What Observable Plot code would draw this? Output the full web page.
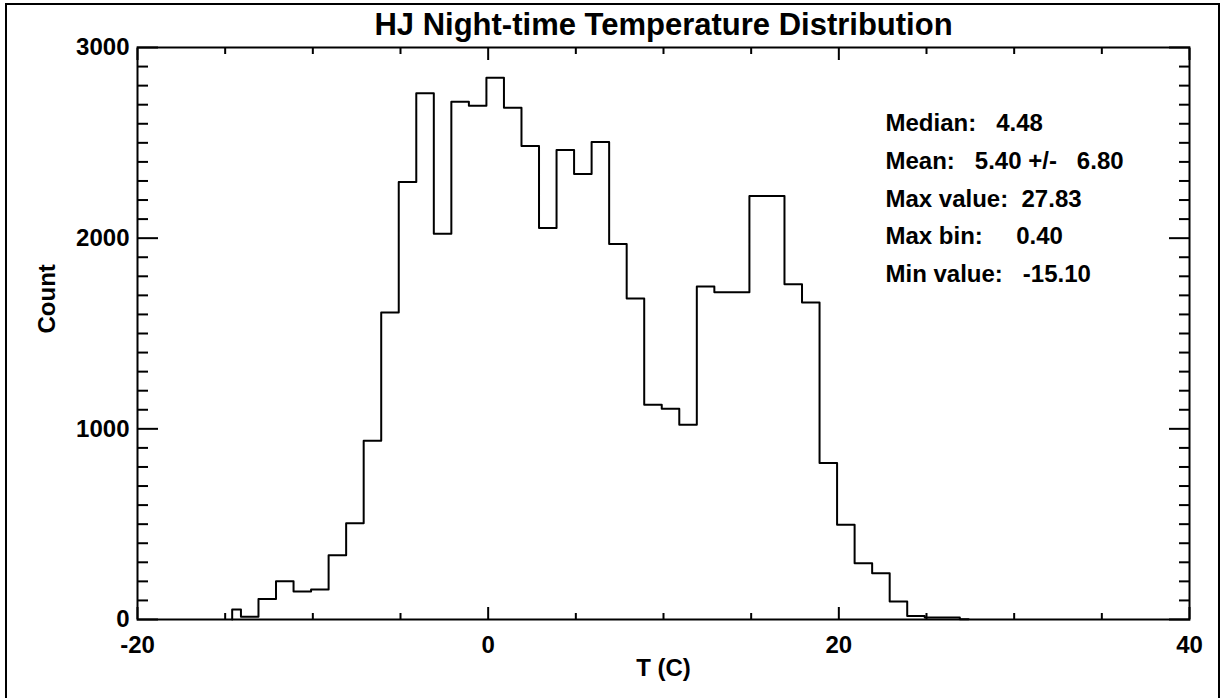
<!DOCTYPE html>
<html>
<head>
<meta charset="utf-8">
<script src="https://cdn.jsdelivr.net/npm/d3@7"></script>
<script src="https://cdn.jsdelivr.net/npm/@observablehq/plot@0.6"></script>
<style>
  html, body { margin: 0; padding: 0; background: #fff; }
  #wrap { position: relative; width: 1223px; height: 698px; overflow: hidden; background: #fff; }
  #wrap svg { position: absolute; left: 0; top: 0; }
  #border { position: absolute; left: 5px; top: 3px; width: 1215px; height: 730px; border: 2px solid #000; box-sizing: border-box; pointer-events: none; }
  svg text { white-space: pre; }
</style>
</head>
<body>
<div id="wrap"><div id="border"></div></div>
<script>
// Histogram bin centres (deg C) and counts
const binCenters = [-14.6, -13.6, -12.6, -11.6, -10.6, -9.6, -8.6, -7.6, -6.6, -5.6,
  -4.6, -3.6, -2.6, -1.6, -0.6, 0.4, 1.4, 2.4, 3.4, 4.4,
  5.4, 6.4, 7.4, 8.4, 9.4, 10.4, 11.4, 12.4, 13.4, 14.4,
  15.4, 16.4, 17.4, 18.4, 19.4, 20.4, 21.4, 22.4, 23.4, 24.4,
  25.4, 26.4, 27.4];
const counts = [53, 15, 107, 200, 147, 158, 337, 505, 937, 1610,
  2295, 2760, 2023, 2716, 2695, 2842, 2684, 2483, 2053, 2463,
  2337, 2505, 1970, 1684, 1126, 1105, 1021, 1747, 1716, 1716,
  2221, 2221, 1758, 1663, 821, 497, 295, 242, 95, 19,
  11, 11, 1];

const titleText = "HJ Night-time Temperature Distribution";
const xLabel = "T (C)";
const yLabel = "Count";
const statsLines = [
  "Median:   4.48",
  "Mean:   5.40 +/-   6.80",
  "Max value:  27.83",
  "Max bin:     0.40",
  "Min value:   -15.10"
];
const statsX = 22.66;      // data units (T)
const statsTop = 2600;     // data units (Count)
const statsStep = 197;

const xMajorTicks = [-20, 0, 20, 40];
const xMinorTicks = [-15, -10, -5, 5, 10, 15, 25, 30, 35];
const yMajorTicks = [0, 1000, 2000, 3000];
const yMinorTicks = d3.range(100, 3000, 100).filter(v => v % 1000 !== 0);

// IDL psym=10 style step outline built from bin centres
const n = binCenters.length;
const pts = [{x: binCenters[0], y: 0}];
for (let i = 0; i < n; i++) {
  const left = i === 0 ? binCenters[0] : (binCenters[i - 1] + binCenters[i]) / 2;
  const right = i === n - 1 ? binCenters[n - 1] : (binCenters[i] + binCenters[i + 1]) / 2;
  pts.push({x: left, y: counts[i]});
  pts.push({x: right, y: counts[i]});
}

const font = "'Liberation Sans', Arial, Helvetica, sans-serif";
const fmt = d => String(d);
const tickStyle = {strokeWidth: 2, label: null, tickFormat: () => ""};

const chart = Plot.plot({
  width: 1223,
  height: 698,
  marginLeft: 137,
  marginRight: 34,
  marginTop: 47,
  marginBottom: 79,
  x: {domain: [-20, 40]},
  y: {domain: [0, 3000]},
  style: {fontFamily: font, fontWeight: "bold", color: "#000", background: "transparent", overflow: "visible"},
  marks: [
    // inward tick marks on all four sides
    Plot.axisX(xMinorTicks, {anchor: "bottom", tickSize: -6, ...tickStyle}),
    Plot.axisX(xMajorTicks, {anchor: "bottom", tickSize: -12, ...tickStyle}),
    Plot.axisX(xMinorTicks, {anchor: "top", tickSize: -6, ...tickStyle}),
    Plot.axisX(xMajorTicks, {anchor: "top", tickSize: -12, ...tickStyle}),
    Plot.axisY(yMinorTicks, {anchor: "left", tickSize: -11, ...tickStyle}),
    Plot.axisY(yMajorTicks, {anchor: "left", tickSize: -21, ...tickStyle}),
    Plot.axisY(yMinorTicks, {anchor: "right", tickSize: -11, ...tickStyle}),
    Plot.axisY(yMajorTicks, {anchor: "right", tickSize: -21, ...tickStyle}),
    // tick labels
    Plot.axisX(xMajorTicks, {anchor: "bottom", tickSize: 0, tickPadding: 16, fontSize: 24, tickFormat: fmt, label: null}),
    Plot.axisY(yMajorTicks, {anchor: "left", tickSize: 0, tickPadding: 8, fontSize: 24, tickFormat: fmt, label: null}),
    Plot.frame({stroke: "#000", strokeWidth: 2}),
    Plot.line(pts, {x: "x", y: "y", stroke: "#000", strokeWidth: 2}),
    Plot.text(statsLines, {x: () => statsX, y: (d, i) => statsTop - i * statsStep, text: d => d,
      textAnchor: "start", lineAnchor: "middle", fontSize: 24, fill: "#000"}),
    Plot.text([titleText], {frameAnchor: "top", dy: -22, lineAnchor: "middle", text: d => d, fontSize: 31, fill: "#000"}),
    Plot.text([xLabel], {frameAnchor: "bottom", dy: 49, lineAnchor: "middle", text: d => d, fontSize: 24, fill: "#000"}),
    Plot.text([yLabel], {frameAnchor: "left", dx: -90, rotate: -90, lineAnchor: "middle", text: d => d, fontSize: 24, fill: "#000"})
  ]
});

document.getElementById("wrap").insertBefore(chart, document.getElementById("border"));
</script>
</body>
</html>
